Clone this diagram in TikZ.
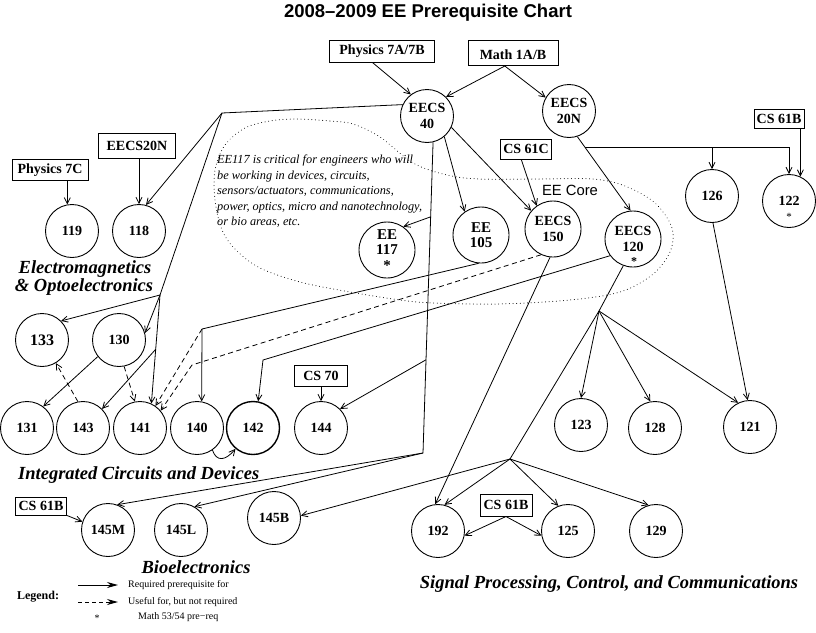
\documentclass[tikz,border=0pt]{standalone}
\usepackage{fontspec}
\setmainfont{Liberation Serif}
\newfontfamily\helv{Liberation Sans}
\usetikzlibrary{arrows.meta,calc}
\begin{document}
\begin{tikzpicture}[x=1pt,y=-1pt,
  course/.style={circle, draw, line width=0.9pt, minimum size=53pt, inner sep=0pt, align=center,
    font=\fontsize{14}{15.5}\selectfont\bfseries},
  bigcourse/.style={course, minimum size=56pt},
  prereq/.style={draw, line width=1pt, inner xsep=2pt, inner ysep=0pt, minimum height=21pt,
    font=\fontsize{14}{16}\selectfont\bfseries},
  conn/.style={line width=0.8pt},
  req/.style={conn, -{Straight Barb[length=6pt,width=6pt,line width=0.8pt]}},
  useful/.style={req, dash pattern=on 5pt off 3.5pt},
  arealabel/.style={font=\fontsize{18.5}{16}\selectfont\bfseries\itshape, inner sep=0pt},
  dotline/.style={line width=1pt, dash pattern=on 0.01pt off 3.6pt, line cap=round},
  legarrow/.style={line width=1pt, -{Stealth[length=11pt,width=6pt]}},
  legtext/.style={font=\fontsize{10}{12}\selectfont, inner sep=0pt, anchor=west}
]
\useasboundingbox (0,0) rectangle (816,632);

% title
\node[font=\helv\bfseries\fontsize{18.5}{20}\selectfont, anchor=base, inner sep=0pt] (title) at (428,17) {2008–2009 EE Prerequisite Chart};

% dotted core region
\draw[dotline] plot[smooth cycle, tension=0.55] coordinates {
 (297,119) (330,121) (353,124) (380,137) (413,163) (447,175) (480,179) (540,179) (593,179)
 (625,186) (655,203) (672,228) (670,252) (652,275) (620,292) (570,300) (500,304) (433,303)
 (400,300) (350,292) (300,282) (260,268) (236,250) (222,230) (215,200) (215,170) (225,145)
 (245,128) (270,121)};
\node[font=\helv\fontsize{14.8}{16}\selectfont, inner sep=0pt] (core) at (570,190) {EE Core};
\node[font=\itshape\fontsize{12.3}{15.5}\selectfont, align=left, anchor=north west, inner sep=0pt] (note) at (217,155)
 {EE117 is critical for engineers who will\\be working in devices, circuits,\\sensors/actuators, communications,\\power, optics, micro and nanotechnology,\\or bio areas, etc.};

% prerequisite boxes
\node[prereq, minimum width=105pt, minimum height=22pt] (phys) at (382,51) {Physics 7A/7B};
\node[prereq, minimum width=90pt, minimum height=25pt, text height=13pt, text depth=1pt] (math) at (513,53) {Math 1A/B};
\node[prereq, minimum width=50pt, minimum height=19pt] (cs61bR) at (779,119) {CS 61B};
\node[prereq, minimum width=51pt, minimum height=20pt] (cs61c) at (526,149) {CS 61C};
\node[prereq, minimum width=77pt, minimum height=25pt] (box20n) at (137,146) {EECS20N};
\node[prereq, minimum width=76pt, minimum height=21pt] (phys7c) at (50,170) {Physics 7C};
\node[prereq, minimum width=53pt, minimum height=21pt] (cs70) at (321,376) {CS 70};
\node[prereq, minimum width=51pt, minimum height=18pt] (cs61bL) at (41,506) {CS 61B};
\node[prereq, minimum width=52pt, minimum height=22pt] (cs61bM) at (506,505) {CS 61B};

% courses
\node[course] (e40) at (427,116) {EECS\\40};
\node[course] (e20n) at (569,111) {EECS\\20N};
\node[course] (n126) at (712,196) {126};
\node[course] (n122) at (789,201) {122};
\node[font=\fontsize{11}{12}\selectfont, inner sep=0pt] (s122) at (789,217) {*};
\node[bigcourse] (n120) at (633,239) {EECS\\120};
\node[font=\fontsize{12}{12}\selectfont\bfseries, inner sep=0pt] (s120) at (634,262) {*};
\node[bigcourse] (n150) at (553,229) {EECS\\150};
\node[bigcourse, font=\fontsize{15}{15.5}\selectfont\bfseries] (n105) at (481,235) {EE\\105};
\node[bigcourse, font=\fontsize{15}{15.5}\selectfont\bfseries] (n117) at (387,250) {EE\\117\\*};
\node[course] (n119) at (72,231) {119};
\node[course] (n118) at (139,231) {118};
\node[course, font=\fontsize{16}{16}\selectfont\bfseries] (n133) at (42,340) {133};
\node[course] (n130) at (119,340) {130};
\node[course] (n131) at (27,428) {131};
\node[course] (n143) at (83,428) {143};
\node[course] (n141) at (140,428) {141};
\node[course] (n140) at (197,428) {140};
\node[course, line width=1.4pt] (n142) at (253,428) {142};
\node[course] (n144) at (321,428) {144};
\node[course] (n123) at (581,425) {123};
\node[course] (n128) at (655,428) {128};
\node[course] (n121) at (750,427) {121};
\node[course] (n145M) at (108,530) {145M};
\node[course] (n145L) at (181,530) {145L};
\node[course] (n145B) at (274,518) {145B};
\node[course] (n192) at (438,531) {192};
\node[course] (n125) at (568,531) {125};
\node[course] (n129) at (656,531) {129};

% area labels
\node[arealabel, anchor=base] (lab1) at (85,273) {Electromagnetics};
\node[arealabel, anchor=base] (lab2) at (84,291) {\& Optoelectronics};
\node[arealabel, anchor=base west] (lab3) at (18,479) {Integrated Circuits and Devices};
\node[arealabel, anchor=base] (lab4) at (196,573) {Bioelectronics};
\node[arealabel, anchor=base] (lab5) at (609,588) {Signal Processing, Control, and Communications};

% junction points
\coordinate (P1) at (222,113);
\coordinate (J1) at (160,295);
\coordinate (K1) at (423,453);
\coordinate (C1) at (202,329);
\coordinate (C2) at (192,365);
\coordinate (C3) at (263,360);
\coordinate (S1) at (599,311);
\coordinate (S2) at (510,459);

% top prerequisites
\draw[req] ($(phys.south west)!0.41!(phys.south east)$) -- (e40.127);
\draw[req] ($(math.south west)!0.41!(math.south east)$) -- (e40.45);
\draw[req] ($(math.south west)!0.41!(math.south east)$) -- (e20n.150);

% EECS 40 to the left branch
\draw[conn] (e40.155) -- (P1);
\draw[req] (P1) -- (n118.75);
\draw[conn] (P1) -- (J1);
\draw[req] (J1) -- (n133.45);
\draw[req] (J1) -- (n130.15);
\draw[req] (J1) -- (n141.65);
\draw[req] ($(J1)!0.5!(n141.65)$) -- (n143.45);

% EECS 40 long line down
\draw[conn] (e40.-77) -- (K1);
\draw[req] (K1) -- (n145M.70);
\draw[req] (K1) -- (n145L.60);
\draw[req] ($(e40.-77)!0.24!(K1)$) -- (n117.55);
\draw[req] ($(e40.-77)!0.70!(K1)$) -- (n144.45);

\draw[req] (e40.-50) -- (n105.125);
\draw[req] (e40.-25) -- (n150.140);
\draw[req] ($(cs61c.south west)!0.41!(cs61c.south east)$) -- (n150.125);

% EECS 20N
\draw[req] (e20n.-72) -- (n120.95);
\coordinate (B20) at ($(e20n.-72)!0.15!(n120.95)$);
\draw[req] (B20) -| (n122.north);
\draw[req] (B20 -| n126.north) -- (n126.north);
\draw[req] (cs61bR.south -| n122.65) -- (n122.65);
\draw[req] (n126.-88) -- (n121.95);

% EECS 120 signal branch
\draw[conn] (n120.-110) -- (S1);
\draw[req] (S1) -- (n123.north);
\draw[req] (S1) -- (n128.100);
\draw[req] (S1) -- (n121.116);
\draw[conn] (S1) -- (S2);
\draw[req] (S2) -- (n145B.5);
\draw[req] (S2) -- (n192.76);
\draw[req] (S2) -- (n125.111);
\draw[req] (S2) -- (n129.106);
\draw[req] (n150.-96) -- (n192.96);
\draw[req] (cs61bM.south) -- (n192.-10);
\draw[req] (cs61bM.south) -- (n125.-170);

% devices branch
\draw[conn] (n105.-95) -- (C1);
\draw[req] (C1) -- (n140.80);
\draw[useful] (C1) -- (n141.55);
\draw[useful] (n150.-115) -- (C2) -- (n141.40);
\draw[req] (n120.-144) -- (C3) -- (n142.79);
\draw[useful] (n130.-79) -- (n141.101);
\draw[req] (n130.-142) -- (n131.53);
\draw[useful] (n143.101) -- (n133.-59);
\draw[req] (n140.-55) .. controls +(4,12) and +(-10,12) .. (n142.-130);

% other boxes
\draw[req] (phys7c.south -| n119.100) -- (n119.100);
\draw[req] (box20n.south -| n118.north) -- (n118.north);
\draw[req] (cs70.south) -- (n144.north);
\draw[req] (cs61bL.south east) -- (n145M.162);

% legend
\node[font=\bfseries\fontsize{12}{14}\selectfont, inner sep=0pt] (leg) at (38,597) {Legend:};
\coordinate (la1) at (78,585); \coordinate (la2) at (118,585);
\coordinate (lb1) at (78,602); \coordinate (lb2) at (118,602);
\draw[legarrow] (la1) -- (la2);
\draw[legarrow, dash pattern=on 4pt off 3pt] (lb1) -- (lb2);
\node[legtext] (lt1) at (128,585) {Required prerequisite for};
\node[legtext] (lt2) at (128,602) {Useful for, but not required};
\node[font=\fontsize{10}{12}\selectfont, inner sep=0pt] (lstar) at (97,618) {*};
\node[legtext] (lt3) at (138,617) {Math 53/54 pre−req};
\end{tikzpicture}
\end{document}
